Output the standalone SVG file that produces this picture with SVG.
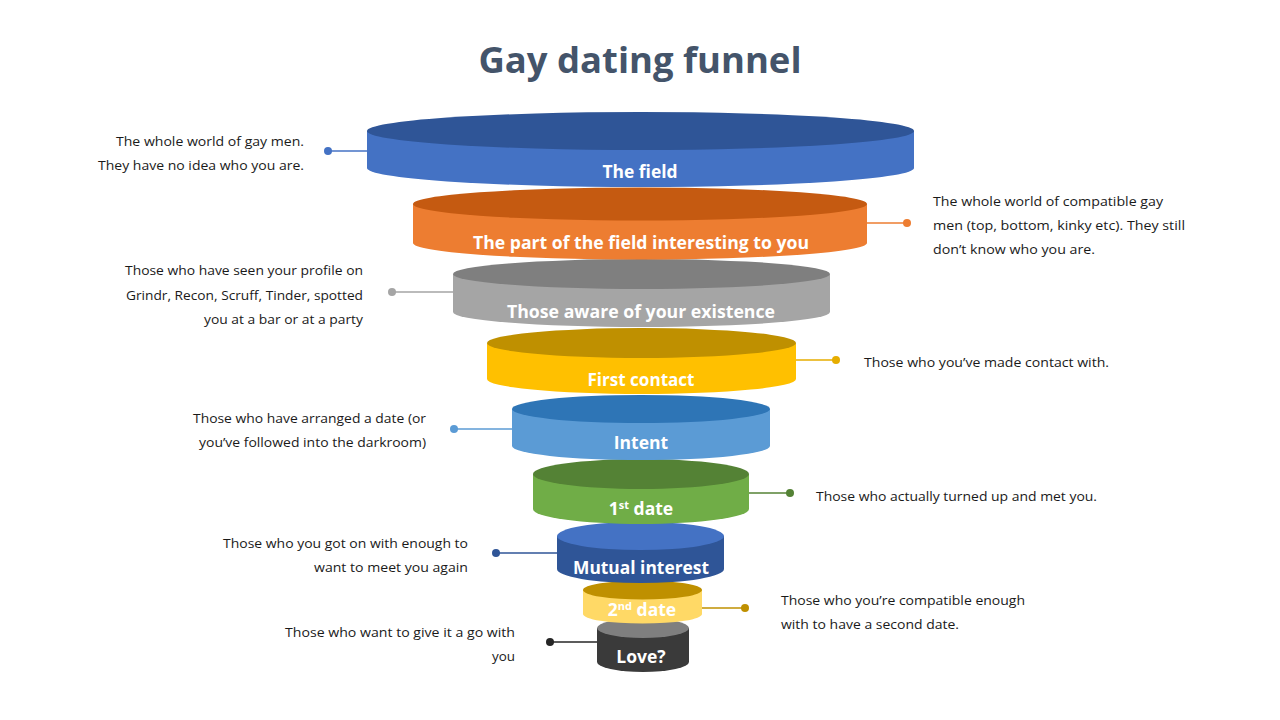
<svg xmlns="http://www.w3.org/2000/svg" width="1280" height="720" viewBox="0 0 1280 720">
<style>
.title{font-family:"Open Sans","Liberation Sans",sans-serif;font-weight:bold;font-size:36px;fill:#44546A;text-anchor:middle}
.lbl{font-family:"Open Sans","Liberation Sans",sans-serif;font-weight:bold;font-size:17.5px;fill:#FFFFFF;text-anchor:middle}
.sup{font-size:11px}
.desc{font-family:"Open Sans","Liberation Sans",sans-serif;font-size:13.5px;fill:#1A1A1A}
.l{text-anchor:end}
.r{text-anchor:start}
.con line{stroke-width:1.3}
</style>
<rect width="1280" height="720" fill="#FFFFFF"/>
<text class="title" x="640" y="73" textLength="323" lengthAdjust="spacingAndGlyphs">Gay dating funnel</text>

<g id="connectors" class="con">
  <line x1="328" y1="151" x2="368" y2="151" stroke="#4472C4"/><circle cx="328" cy="151" r="4" fill="#4472C4"/>
  <line x1="866" y1="223" x2="907" y2="223" stroke="#ED7D31"/><circle cx="907" cy="223" r="4" fill="#ED7D31"/>
  <line x1="392" y1="292" x2="454" y2="292" stroke="#A5A5A5"/><circle cx="392" cy="292" r="4" fill="#A5A5A5"/>
  <line x1="795" y1="360" x2="836" y2="360" stroke="#E6AD00"/><circle cx="836" cy="360" r="4" fill="#E6AD00"/>
  <line x1="454" y1="429" x2="513" y2="429" stroke="#5B9BD5"/><circle cx="454" cy="429" r="4" fill="#5B9BD5"/>
  <line x1="748" y1="493" x2="790" y2="493" stroke="#548235"/><circle cx="790" cy="493" r="4" fill="#548235"/>
  <line x1="496" y1="553" x2="558" y2="553" stroke="#2F5597"/><circle cx="496" cy="553" r="4" fill="#2F5597"/>
  <line x1="701" y1="608" x2="745" y2="608" stroke="#BF9000"/><circle cx="745" cy="608" r="4" fill="#BF9000"/>
  <line x1="550" y1="642" x2="598" y2="642" stroke="#262626"/><circle cx="550" cy="642" r="4" fill="#262626"/>
</g>

<g id="love">
  <path d="M597,628 L597,662 A46,10 0 0 0 689,662 L689,628 Z" fill="#3A3A3A"/>
  <ellipse cx="643" cy="628" rx="46" ry="10" fill="#7F7F7F"/>
  <text class="lbl" x="641" y="663">Love?</text>
</g>
<g id="second-date">
  <path d="M583,590 L583,614 A59.5,9.5 0 0 0 702,614 L702,590 Z" fill="#FFD966"/>
  <ellipse cx="642.5" cy="590" rx="59.5" ry="9.5" fill="#BF9000"/>
  <text class="lbl" x="642" y="616">2<tspan class="sup" dy="-6">nd</tspan><tspan dy="6"> date</tspan></text>
</g>
<g id="mutual-interest">
  <path d="M557,536 L557,569 A83.5,14 0 0 0 724,569 L724,536 Z" fill="#2F5597"/>
  <ellipse cx="640.5" cy="536" rx="83.5" ry="14" fill="#4472C4"/>
  <text class="lbl" x="641" y="574" textLength="136" lengthAdjust="spacingAndGlyphs">Mutual interest</text>
</g>
<g id="first-date">
  <path d="M533,474 L533,509 A108,15 0 0 0 749,509 L749,474 Z" fill="#70AD47"/>
  <ellipse cx="641" cy="474" rx="108" ry="15" fill="#548235"/>
  <text class="lbl" x="641" y="515">1<tspan class="sup" dy="-6">st</tspan><tspan dy="6"> date</tspan></text>
</g>
<g id="intent">
  <path d="M512,409 L512,446 A129,14 0 0 0 770,446 L770,409 Z" fill="#5B9BD5"/>
  <ellipse cx="641" cy="409" rx="129" ry="14" fill="#2E75B6"/>
  <text class="lbl" x="641" y="449">Intent</text>
</g>
<g id="first-contact">
  <path d="M487,343 L487,379 A154.5,15 0 0 0 796,379 L796,343 Z" fill="#FFC000"/>
  <ellipse cx="641.5" cy="343" rx="154.5" ry="15" fill="#BF9000"/>
  <text class="lbl" x="641" y="386" textLength="107" lengthAdjust="spacingAndGlyphs">First contact</text>
</g>
<g id="aware">
  <path d="M453,274 L453,312 A188.5,15 0 0 0 830,312 L830,274 Z" fill="#A5A5A5"/>
  <ellipse cx="641.5" cy="274" rx="188.5" ry="15" fill="#7F7F7F"/>
  <text class="lbl" x="641" y="318" textLength="268" lengthAdjust="spacingAndGlyphs">Those aware of your existence</text>
</g>
<g id="interesting">
  <path d="M413,204 L413,243 A227,16.5 0 0 0 867,243 L867,204 Z" fill="#ED7D31"/>
  <ellipse cx="640" cy="204" rx="227" ry="16.5" fill="#C55A11"/>
  <text class="lbl" x="641" y="249" textLength="336" lengthAdjust="spacingAndGlyphs">The part of the field interesting to you</text>
</g>
<g id="the-field">
  <path d="M367,131 L367,168 A273.5,19 0 0 0 914,168 L914,131 Z" fill="#4472C4"/>
  <ellipse cx="640.5" cy="131" rx="273.5" ry="19" fill="#2F5597"/>
  <text class="lbl" x="640" y="178" textLength="75" lengthAdjust="spacingAndGlyphs">The field</text>
</g>

<g id="descriptions">
  <text class="desc l" x="304" y="146" textLength="188" lengthAdjust="spacingAndGlyphs">The whole world of gay men.</text>
  <text class="desc l" x="304" y="170" textLength="206" lengthAdjust="spacingAndGlyphs">They have no idea who you are.</text>

  <text class="desc r" x="933" y="206" textLength="230" lengthAdjust="spacingAndGlyphs">The whole world of compatible gay</text>
  <text class="desc r" x="933" y="230" textLength="252" lengthAdjust="spacingAndGlyphs">men (top, bottom, kinky etc). They still</text>
  <text class="desc r" x="933" y="254" textLength="162" lengthAdjust="spacingAndGlyphs">don’t know who you are.</text>

  <text class="desc l" x="363" y="275" textLength="238" lengthAdjust="spacingAndGlyphs">Those who have seen your profile on</text>
  <text class="desc l" x="363" y="300" textLength="237" lengthAdjust="spacingAndGlyphs">Grindr, Recon, Scruff, Tinder, spotted</text>
  <text class="desc l" x="363" y="324" textLength="159" lengthAdjust="spacingAndGlyphs">you at a bar or at a party</text>

  <text class="desc r" x="864" y="367" textLength="245" lengthAdjust="spacingAndGlyphs">Those who you’ve made contact with.</text>

  <text class="desc l" x="426" y="423" textLength="233" lengthAdjust="spacingAndGlyphs">Those who have arranged a date (or</text>
  <text class="desc l" x="426" y="447" textLength="227" lengthAdjust="spacingAndGlyphs">you’ve followed into the darkroom)</text>

  <text class="desc r" x="816" y="501" textLength="281" lengthAdjust="spacingAndGlyphs">Those who actually turned up and met you.</text>

  <text class="desc l" x="468" y="548" textLength="245" lengthAdjust="spacingAndGlyphs">Those who you got on with enough to</text>
  <text class="desc l" x="468" y="572" textLength="154" lengthAdjust="spacingAndGlyphs">want to meet you again</text>

  <text class="desc r" x="781" y="605" textLength="244" lengthAdjust="spacingAndGlyphs">Those who you’re compatible enough</text>
  <text class="desc r" x="781" y="629" textLength="178" lengthAdjust="spacingAndGlyphs">with to have a second date.</text>

  <text class="desc l" x="515" y="637" textLength="230" lengthAdjust="spacingAndGlyphs">Those who want to give it a go with</text>
  <text class="desc l" x="515" y="661" textLength="23" lengthAdjust="spacingAndGlyphs">you</text>
</g>
</svg>
